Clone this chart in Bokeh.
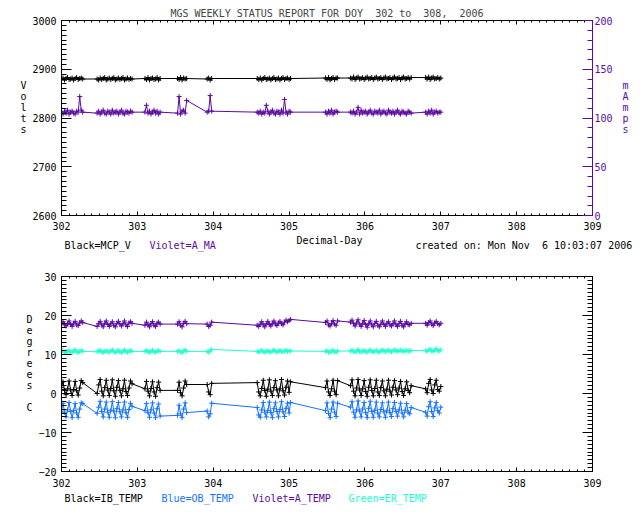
from bokeh.plotting import figure
from bokeh.models import Range1d, LinearAxis, SingleIntervalTicker, Title, Label
from bokeh.layouts import column
from bokeh.core.properties import value
from bokeh.embed import file_html
from bokeh.resources import INLINE

# ---------------- data ----------------
day = [
    302.00, 302.02, 302.04, 302.06, 302.08, 302.10, 302.12, 302.14, 302.16, 302.18, 302.20, 302.22, 302.24, 302.26, 302.28,
    302.47, 302.49, 302.51, 302.53, 302.55, 302.57, 302.59, 302.61, 302.63, 302.65, 302.67, 302.69, 302.71, 302.73, 302.75,
    302.77, 302.79, 302.81, 302.83, 302.85, 302.87, 302.89, 302.91, 302.93,
    303.10, 303.12, 303.14, 303.16, 303.18, 303.20, 303.22, 303.24, 303.26, 303.28, 303.30,
    303.53, 303.55, 303.57, 303.59, 303.61, 303.63, 303.65,
    303.92, 303.94, 303.96, 303.98,
    304.58, 304.60, 304.62, 304.64, 304.66, 304.68, 304.70, 304.72, 304.74, 304.76, 304.78, 304.80, 304.82, 304.84, 304.86,
    304.88, 304.90, 304.92, 304.94, 304.96, 304.98, 305.00, 305.02,
    305.48, 305.50, 305.52, 305.54, 305.56, 305.58, 305.60, 305.62, 305.64,
    305.81, 305.83, 305.85, 305.87, 305.89, 305.91, 305.93, 305.95, 305.97, 305.99, 306.01, 306.03, 306.05, 306.07, 306.09,
    306.11, 306.13, 306.15, 306.17, 306.19, 306.21, 306.23, 306.25, 306.27, 306.29, 306.31, 306.33, 306.35, 306.37, 306.39,
    306.41, 306.43, 306.45, 306.47, 306.49, 306.51, 306.53, 306.55, 306.57, 306.59, 306.61,
    306.80, 306.82, 306.84, 306.86, 306.88, 306.90, 306.92, 306.94, 306.96, 306.98, 307.00,
]

mcp_v = [
    2879, 2882, 2878, 2881, 2883, 2879, 2880, 2882, 2878, 2881, 2883, 2879, 2881, 2882, 2880,
    2880, 2878, 2882, 2879, 2881, 2883, 2878, 2880, 2882, 2879, 2881, 2883, 2878, 2880, 2882,
    2879, 2881, 2883, 2878, 2880, 2882, 2879, 2881, 2880,
    2881, 2879, 2883, 2878, 2881, 2882, 2879, 2880, 2883, 2878, 2881,
    2881, 2879, 2883, 2878, 2882, 2880, 2881,
    2880, 2882, 2878, 2881,
    2881, 2879, 2882, 2878, 2881, 2883, 2879, 2880, 2882, 2878, 2881, 2883, 2879, 2880, 2882,
    2878, 2881, 2883, 2879, 2881, 2882, 2879, 2881,
    2882, 2879, 2883, 2878, 2881, 2883, 2879, 2882, 2882,
    2882, 2880, 2884, 2879, 2882, 2884, 2880, 2881, 2883, 2879, 2882, 2884, 2880, 2881, 2883,
    2879, 2882, 2884, 2880, 2881, 2883, 2879, 2882, 2884, 2880, 2881, 2883, 2879, 2882, 2884,
    2880, 2881, 2883, 2879, 2882, 2884, 2880, 2881, 2883, 2880, 2883,
    2883, 2880, 2884, 2879, 2882, 2884, 2880, 2881, 2883, 2880, 2882,
]

a_ma = [
    106, 104, 107, 105, 108, 104, 106, 107, 105, 104, 107, 106, 122, 108, 106,
    105, 107, 104, 106, 108, 105, 104, 107, 106, 104, 108, 105, 106, 107, 104,
    106, 108, 105, 104, 107, 106, 105, 107, 106,
    106, 113, 105, 107, 104, 106, 108, 105, 107, 104, 106,
    105, 122, 104, 107, 108, 105, 118,
    106, 107, 123, 107,
    106, 105, 107, 104, 106, 105, 113, 107, 104, 106, 108, 105, 104, 107, 106,
    104, 108, 105, 119, 106, 104, 107, 106,
    106, 104, 107, 105, 108, 104, 106, 107, 106,
    106, 105, 107, 104, 106, 111, 104, 108, 105, 106, 107, 104, 106, 108, 105,
    104, 107, 106, 105, 108, 104, 106, 107, 105, 104, 108, 106, 105, 107, 104,
    106, 108, 105, 104, 107, 106, 105, 104, 107, 106, 105,
    106, 104, 107, 105, 108, 104, 106, 107, 105, 106, 106,
]

ib_temp = [
    1.5, 3.0, 0.8, -0.3, 1.2, 3.2, 0.9, -0.5, 1.0, 3.1, 0.7, -0.4, 1.4, 3.3, 2.8,
    0.0, 2.2, 3.6, 0.6, -0.6, 1.5, 3.4, 0.9, -0.5, 1.3, 3.5, 0.7, -0.7, 1.6, 3.3,
    0.8, -0.6, 1.2, 3.4, 0.5, -0.5, 1.4, 3.2, 2.5,
    1.2, 3.1, 0.6, -0.6, 1.3, 3.0, 0.4, -0.7, 1.5, 2.9, 0.8,
    0.8, 2.9, 0.2, -0.6, 1.4, 3.2, 2.3,
    2.3, 0.4, -0.3, 2.6,
    2.8, 0.4, -0.6, 1.3, 3.4, 0.8, -0.7, 1.1, 3.5, 0.6, -0.5, 1.5, 3.3, 0.9, -0.6,
    1.2, 3.6, 0.7, -0.4, 1.6, 3.2, 0.3, 3.0,
    1.5, 3.2, 0.4, -0.5, 1.2, 3.4, 0.6, -0.3, 3.3,
    2.0, 3.5, 0.6, -0.6, 1.4, 3.6, 0.9, -0.5, 1.2, 3.3, 0.5, -0.7, 1.6, 3.5, 0.8,
    -0.6, 1.3, 3.4, 0.4, -0.5, 1.5, 3.2, 0.7, -0.6, 1.1, 3.4, 0.6, -0.4, 1.6, 3.3,
    0.9, -0.3, 1.4, 3.1, 0.5, -0.5, 1.2, 3.0, 0.8, 0.2, 2.0,
    1.2, 0.2, 2.6, 3.6, 0.9, 0.0, 2.2, 3.4, 1.0, 0.6, 1.8,
]

ob_temp = [
    -4.5, -2.5, -4.8, -6.0, -4.2, -2.3, -4.6, -6.2, -4.4, -2.6, -5.0, -6.1, -4.0, -2.4, -2.6,
    -5.1, -3.5, -2.0, -4.6, -6.0, -4.0, -2.2, -4.8, -6.1, -4.3, -2.1, -4.5, -6.2, -3.9, -2.3,
    -4.7, -6.0, -4.2, -2.2, -4.9, -6.1, -4.1, -2.5, -3.3,
    -4.4, -2.6, -4.9, -6.1, -4.2, -2.4, -5.0, -6.2, -3.9, -2.7, -5.8,
    -5.6, -3.0, -5.2, -6.2, -4.0, -2.4, -4.9,
    -4.5, -6.0, -5.2, -2.5,
    -3.6, -5.5, -6.1, -4.2, -2.3, -4.8, -6.0, -4.4, -2.2, -4.9, -6.2, -3.9, -2.4, -4.6, -6.0,
    -4.1, -2.1, -4.7, -5.9, -3.8, -2.5, -5.0, -2.3,
    -4.4, -2.4, -5.1, -6.2, -4.0, -2.2, -4.8, -5.9, -2.5,
    -3.5, -2.1, -4.8, -6.1, -4.2, -1.9, -4.5, -6.0, -4.0, -2.3, -4.9, -6.2, -3.8, -2.0, -4.6,
    -6.1, -4.3, -2.2, -5.0, -6.0, -4.1, -2.4, -4.7, -6.1, -4.4, -2.2, -4.9, -5.9, -3.9, -2.3,
    -4.6, -5.8, -4.2, -2.5, -5.0, -6.0, -4.3, -2.6, -4.8, -5.2, -3.6,
    -4.8, -5.8, -3.4, -2.1, -4.6, -5.9, -3.7, -2.3, -4.4, -5.0, -3.5,
]

a_temp = [
    17.6, 18.4, 17.8, 17.3, 17.9, 18.6, 17.7, 17.2, 18.0, 18.5, 17.6, 17.4, 18.1, 18.6, 18.2,
    17.2, 17.9, 18.5, 17.6, 17.1, 18.0, 18.6, 17.7, 17.2, 17.9, 18.4, 17.5, 17.1, 18.0, 18.5,
    17.8, 17.3, 17.9, 18.6, 17.6, 17.2, 18.1, 18.4, 18.0,
    17.5, 18.3, 17.6, 17.1, 17.9, 18.4, 17.5, 17.2, 18.0, 18.3, 17.8,
    17.8, 18.4, 17.5, 17.1, 18.0, 18.5, 17.9,
    17.8, 17.2, 17.5, 18.3,
    17.5, 17.2, 17.8, 18.4, 17.6, 17.1, 17.9, 18.5, 17.7, 17.3, 18.0, 18.6, 17.8, 17.4, 18.1,
    18.5, 17.9, 17.6, 18.3, 18.8, 18.4, 18.7, 19.0,
    18.2, 18.6, 17.6, 17.3, 18.0, 18.7, 17.8, 17.5, 18.6,
    18.3, 18.8, 17.9, 17.3, 18.1, 18.9, 17.8, 17.2, 18.0, 18.7, 17.7, 17.0, 17.9, 18.6, 17.6,
    17.1, 18.0, 18.5, 17.5, 17.1, 17.8, 18.6, 17.7, 17.2, 18.0, 18.4, 17.6, 17.3, 17.9, 18.6,
    17.6, 17.2, 18.0, 18.5, 17.5, 17.1, 17.9, 18.4, 17.7, 17.6, 18.0,
    18.0, 17.5, 18.2, 18.6, 17.8, 17.4, 18.1, 18.5, 17.9, 17.6, 18.0,
]

er_temp = [
    10.6, 11.0, 10.7, 10.4, 10.8, 11.1, 10.6, 10.5, 10.9, 11.2, 10.7, 10.5, 10.8, 11.1, 10.8,
    10.7, 10.9, 11.1, 10.7, 10.5, 10.8, 11.0, 10.7, 10.6, 10.9, 11.2, 10.8, 10.5, 10.9, 11.1,
    10.6, 10.5, 10.8, 11.2, 10.7, 10.6, 10.9, 11.0, 10.8,
    10.8, 11.0, 10.7, 10.6, 10.8, 11.1, 10.7, 10.6, 10.9, 11.0, 10.8,
    10.8, 11.0, 10.6, 10.5, 10.9, 11.2, 10.8,
    10.8, 10.6, 10.9, 11.3,
    10.8, 10.6, 10.9, 11.1, 10.7, 10.6, 10.8, 11.0, 10.7, 10.6, 10.9, 11.2, 10.8, 10.6, 10.9,
    11.0, 10.8, 10.7, 10.9, 11.1, 10.8, 10.9, 10.9,
    10.8, 11.0, 10.6, 10.5, 10.9, 11.1, 10.7, 10.6, 10.9,
    10.9, 11.1, 10.8, 10.6, 10.9, 11.3, 10.8, 10.6, 10.9, 11.1, 10.7, 10.6, 10.9, 11.2, 10.8,
    10.6, 10.9, 11.1, 10.7, 10.6, 10.9, 11.2, 10.9, 10.7, 11.0, 11.1, 10.8, 10.7, 10.9, 11.2,
    10.9, 10.8, 11.0, 11.1, 10.9, 10.8, 11.0, 11.0, 10.9, 10.9, 11.0,
    11.0, 10.8, 11.2, 11.4, 10.9, 10.8, 11.1, 11.5, 11.0, 10.9, 11.2,
]

NB = "\u00a0"
title_text = "MGS WEEKLY STATUS REPORT FOR DOY" + NB + " 302 to" + NB + " 308," + NB + " 2006"
created_text = "created on: Mon Nov" + NB + " 6 10:03:07 2006"
x_label = "Decimal-Day"
top_legend = ["Black=MCP_V", "Violet=A_MA"]
bottom_legend = ["Black=IB_TEMP", "Blue=OB_TEMP", "Violet=A_TEMP", "Green=ER_TEMP"]

# ---------------- styling ----------------
FONT = "DejaVu Sans Mono"
FS = "10px"
BLACK = "#000000"
VIOLET = "#5a0aa0"
BLUE = "#1473ff"
GREEN = "#20ffd0"

X0, X1 = 302, 309
FW, FH = 531, 195
LEFT, RIGHT = 61, 48


def style_axis(ax, color=BLACK, labels=True, standoff=5, tick_major=10, tick_minor=5):
    ax.axis_line_color = color
    ax.axis_line_width = 1
    ax.major_tick_line_color = color
    ax.minor_tick_line_color = color
    ax.major_tick_in = tick_major
    ax.major_tick_out = 0
    ax.minor_tick_in = tick_minor
    ax.minor_tick_out = 0
    ax.major_label_text_font = FONT
    if labels:
        ax.major_label_text_color = color
        ax.major_label_text_font_size = FS
        ax.major_label_standoff = standoff
    else:
        ax.major_label_text_color = None
        ax.major_label_text_font_size = "1px"
        ax.major_label_standoff = 0
    ax.axis_label_text_font = FONT
    ax.axis_label_text_font_size = FS
    ax.axis_label_text_font_style = "normal"
    ax.axis_label_text_color = color


def clean(p):
    p.grid.visible = False
    p.outline_line_color = None
    p.background_fill_color = "white"
    p.border_fill_color = "white"


def make_fig(y0, y1, top, bottom, xstand):
    p = figure(frame_width=FW, frame_height=FH,
               min_border_left=LEFT, min_border_right=RIGHT,
               min_border_top=top, min_border_bottom=bottom,
               x_range=Range1d(X0, X1), y_range=Range1d(y0, y1),
               output_backend="svg", toolbar_location=None, tools="")
    clean(p)
    bottom_ax = p.below[0]
    bottom_ax.ticker = SingleIntervalTicker(interval=1, num_minor_ticks=10)
    style_axis(bottom_ax, standoff=xstand, tick_major=4, tick_minor=2)
    top_ax = LinearAxis(ticker=SingleIntervalTicker(interval=1, num_minor_ticks=10))
    style_axis(top_ax, labels=False, tick_major=4, tick_minor=2)
    p.add_layout(top_ax, "above")
    return p


def text_fig(frame_h, page_top, bottom=0):
    # a text strip whose data coordinates are page pixels
    t = figure(frame_width=FW, frame_height=frame_h,
               min_border_left=LEFT, min_border_right=RIGHT,
               min_border_top=0, min_border_bottom=bottom,
               x_range=Range1d(LEFT, LEFT + FW), y_range=Range1d(page_top + frame_h, page_top),
               x_axis_type=None, y_axis_type=None,
               output_backend="svg", toolbar_location=None, tools="")
    clean(t)
    return t


def put_text(t, x, y, txt, color=BLACK, align="left"):
    t.text(x=[x], y=[y], text=[txt], text_font=value(FONT), text_font_size=value(FS),
           text_color=color, text_align=align, text_baseline="middle")


# ---------------- top panel (page 0..234) ----------------
p1 = make_fig(2600, 3000, 20, 19, 6)
p1.title = Title(text=title_text, align="center", text_font=FONT, text_font_size=FS,
                 text_font_style="normal", standoff=3)
left1 = p1.left[0]
left1.ticker = SingleIntervalTicker(interval=100, num_minor_ticks=10)
style_axis(left1, standoff=5)
left1.axis_label = "V\no\nl\nt\ns\n \n "
left1.axis_label_orientation = "horizontal"
left1.axis_label_standoff = 3
left1.axis_label_text_line_height = 1.0

p1.extra_y_ranges = {"ma": Range1d(0, 200)}
rax = LinearAxis(y_range_name="ma", ticker=SingleIntervalTicker(interval=50, num_minor_ticks=5))
style_axis(rax, color=VIOLET, standoff=2)
rax.axis_label = "m\nA\nm\np\ns\n \n "
rax.axis_label_orientation = "horizontal"
rax.axis_label_standoff = 7
rax.axis_label_text_line_height = 1.0
p1.add_layout(rax, "right")

p1.line(day, mcp_v, color=BLACK, line_width=1)
p1.scatter(day, mcp_v, marker="cross", size=5, color=BLACK, line_width=1)
p1.line(day, a_ma, color=VIOLET, line_width=1, y_range_name="ma")
p1.scatter(day, a_ma, marker="cross", size=5, color=VIOLET, line_width=1, y_range_name="ma")

# ---------------- text strip between panels (page 234..270) ----------------
tB = text_fig(24, 234, bottom=12)
put_text(tB, 329, 240, x_label, align="center")
put_text(tB, 64, 245, top_legend[0])
put_text(tB, 149, 245, top_legend[1], color=VIOLET)
tB.add_layout(Label(x=415, y=245, text=created_text, text_font=FONT, text_font_size=FS,
                    text_color=BLACK, text_align="left", text_baseline="middle"), "below")

# ---------------- bottom panel (page 270..490) ----------------
p2 = make_fig(-20, 30, 6, 19, 7)
left2 = p2.left[0]
left2.ticker = SingleIntervalTicker(interval=10, num_minor_ticks=10)
style_axis(left2, standoff=5)
left2.axis_label = "D\ne\ng\nr\ne\ne\ns\n \nC\n \n "
left2.axis_label_orientation = "horizontal"
left2.axis_label_standoff = 3
left2.axis_label_text_line_height = 1.0
rax2 = LinearAxis(ticker=SingleIntervalTicker(interval=10, num_minor_ticks=10))
style_axis(rax2, labels=False)
p2.add_layout(rax2, "right")

for vals, col in ((a_temp, VIOLET), (er_temp, GREEN), (ib_temp, BLACK), (ob_temp, BLUE)):
    p2.line(day, vals, color=col, line_width=1)
    p2.scatter(day, vals, marker="cross", size=5, color=col, line_width=1)

# ---------------- bottom legend strip (page 490..510) ----------------
tC = text_fig(20, 490)
for txt, col, px in zip(bottom_legend, (BLACK, BLUE, VIOLET, GREEN), (64, 161, 252, 348)):
    put_text(tC, px, 498, txt, color=col)

layout = column(p1, tB, p2, tC)
open("out.html", "w").write(file_html(layout, INLINE))
